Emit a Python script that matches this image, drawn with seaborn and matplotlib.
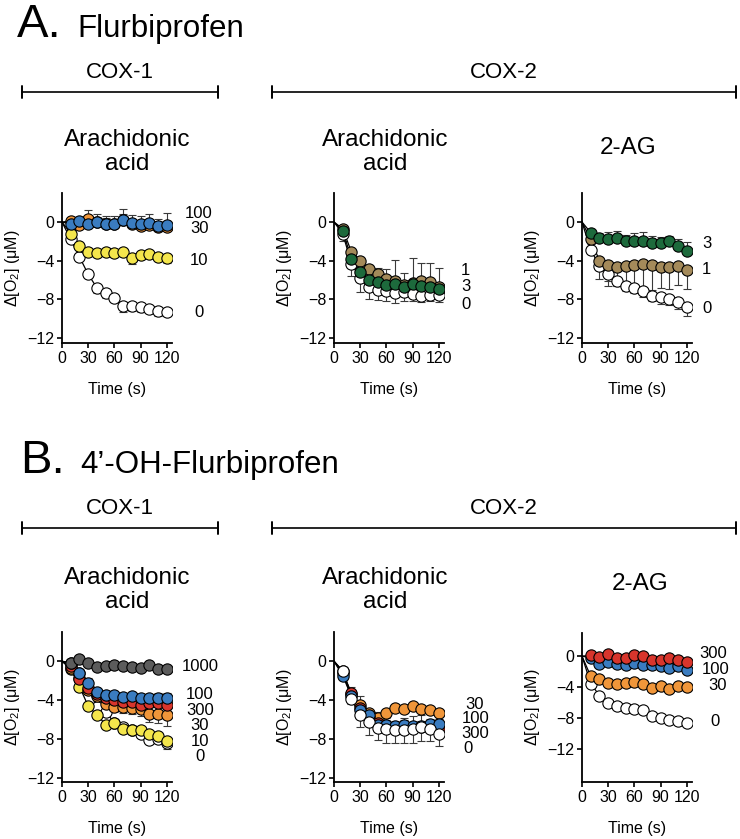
import matplotlib
matplotlib.use("Agg")
import matplotlib.pyplot as plt
import pandas as pd
import seaborn as sns

# ---------------- data ----------------
time = [0, 10, 20, 30, 40, 50, 60, 70, 80, 90, 100, 110, 120]

# A. Flurbiprofen, COX-1, arachidonic acid
a1_0 = [0, -1.8, -3.6, -5.4, -6.8, -7.3, -7.9, -8.7, -8.7, -8.8, -9.0, -9.2, -9.3]
a1_10 = [0, -1.2, -2.5, -3.1, -3.2, -3.1, -3.2, -3.1, -3.7, -3.4, -3.3, -3.6, -3.7]
a1_30 = [0, 0.1, -0.3, 0.3, 0.0, -0.2, -0.2, 0.2, -0.2, -0.4, -0.3, -0.5, -0.5]
a1_100 = [0, -0.2, 0.1, -0.2, 0.0, -0.2, -0.2, 0.2, -0.1, -0.2, -0.1, -0.45, -0.35]
a1_0_err = [0.2, 0.3, 0.3, 0.5, 0.5, 0.4, 0.6, 0.5, 0.5, 0.4, 0.5, 0.4]
a1_10_err = [0.3, 0.3, 0.3, 0.3, 0.3, 0.3, 0.3, 0.6, 0.4, 0.3, 0.3, 0.5]
a1_30_err = [0.3, 0.4, 0.9, 0.5, 0.6, 0.5, 0.6, 0.5, 0.5, 0.5, 0.6, 0.6]
a1_100_err = [0.3, 0.3, 0.4, 0.8, 0.8, 0.8, 1.1, 0.8, 0.8, 0.9, 0.8, 1.3]

# A. Flurbiprofen, COX-2, arachidonic acid
a2_0 = [0, -1.2, -4.3, -5.8, -6.7, -7.0, -7.1, -7.3, -7.2, -7.4, -7.6, -7.5, -7.5]
a2_1 = [0, -0.7, -3.1, -4.0, -4.9, -5.4, -5.9, -6.1, -6.5, -6.3, -6.1, -6.2, -6.7]
a2_3 = [0, -0.9, -3.8, -5.2, -6.0, -6.2, -6.5, -6.4, -6.7, -6.4, -6.6, -6.7, -6.9]
a2_0_err = [0.8, 1.3, 1.4, 1.3, 1.1, 1.1, 1.1, 1.0, 0.8, 0.7, 0.7, 0.8]
a2_1_err = [0.3, 0.3, 0.4, 0.5, 0.6, 1.0, 2.2, 1.2, 2.6, 1.9, 2.0, 2.0]
a2_3_err = [0.2, 0.3, 0.3, 0.3, 0.3, 0.3, 0.3, 0.3, 0.3, 0.3, 0.3, 0.3]

# A. Flurbiprofen, COX-2, 2-AG
a3_0 = [0, -2.9, -4.5, -5.4, -6.1, -6.6, -6.8, -7.1, -7.6, -7.7, -8.0, -8.3, -8.8]
a3_1 = [0, -1.8, -4.0, -4.4, -4.6, -4.5, -4.4, -4.3, -4.4, -4.6, -4.6, -4.5, -5.0]
a3_3 = [0, -1.1, -1.7, -1.8, -1.7, -2.0, -2.0, -2.0, -2.2, -2.2, -2.0, -2.5, -3.0]
a3_0_err = [0.3, 0.5, 0.7, 0.5, 0.5, 0.5, 0.6, 0.6, 0.8, 0.6, 0.7, 0.9]
a3_1_err = [0.5, 1.9, 2.2, 2.0, 2.5, 2.8, 2.8, 2.6, 2.2, 2.3, 2.0, 1.9]
a3_3_err = [0.2, 0.6, 0.8, 0.8, 0.7, 0.9, 1.0, 0.8, 0.7, 0.6, 0.7, 0.9]

# B. 4'-OH-Flurbiprofen, COX-1, arachidonic acid
b1_0 = [0, -0.25, -1.2, -2.8, -4.7, -5.2, -6.3, -6.8, -7.1, -7.5, -8.1, -8.0, -8.4]
b1_10 = [0, -0.8, -2.6, -4.6, -5.5, -6.5, -6.3, -7.0, -7.1, -7.1, -7.5, -7.7, -8.2]
b1_30 = [0, -0.7, -1.7, -3.0, -3.6, -4.4, -4.7, -4.7, -4.8, -4.9, -5.4, -5.4, -5.5]
b1_300 = [0, -0.5, -1.8, -2.8, -3.4, -3.8, -4.0, -4.2, -4.2, -4.5, -4.3, -4.3, -4.5]
b1_100 = [0, -0.2, -1.2, -2.2, -3.2, -3.5, -3.5, -3.65, -3.6, -3.8, -3.8, -3.8, -3.8]
b1_1000 = [0, -0.2, 0.2, -0.2, -0.6, -0.45, -0.35, -0.5, -0.6, -0.7, -0.35, -0.75, -0.85]
b1_0_err = [0.2, 0.3, 0.4, 0.4, 0.4, 0.3, 0.3, 0.3, 0.3, 0.3, 0.4, 0.6]
b1_10_err = [0.2, 0.3, 0.3, 0.3, 0.4, 0.3, 0.3, 0.3, 0.3, 0.3, 0.3, 0.3]
b1_30_err = [0.2, 0.3, 0.4, 0.4, 0.5, 0.5, 0.6, 0.6, 0.7, 0.8, 0.9, 1.1]
b1_300_err = [0.2, 0.3, 0.3, 0.3, 0.3, 0.3, 0.4, 0.4, 0.5, 0.4, 0.4, 0.4]
b1_100_err = [0.2, 0.3, 0.5, 0.4, 0.4, 0.4, 0.4, 0.4, 0.4, 0.4, 0.5, 0.5]
b1_1000_err = [0.2, 0.2, 0.2, 0.2, 0.2, 0.2, 0.2, 0.2, 0.2, 0.2, 0.2, 0.2]

# B. 4'-OH-Flurbiprofen, COX-2, arachidonic acid
b2_0 = [0, -1.0, -3.9, -5.5, -6.2, -6.9, -7.0, -7.1, -7.1, -7.0, -6.8, -7.0, -7.5]
b2_300 = [0, -1.2, -3.3, -4.8, -5.7, -6.3, -6.6, -6.8, -6.7, -6.9, -6.8, -6.9, -7.0]
b2_100 = [0, -1.5, -3.6, -5.0, -5.5, -6.5, -6.5, -6.6, -6.5, -6.7, -6.6, -6.4, -6.4]
b2_30 = [0, -1.0, -3.4, -4.5, -5.3, -5.8, -5.3, -4.8, -4.9, -4.6, -4.9, -5.0, -5.3]
b2_0_err = [0.4, 0.5, 1.3, 1.4, 1.2, 1.4, 1.3, 1.3, 1.4, 1.4, 1.2, 1.2]
b2_300_err = [0.3, 0.7, 1.2, 0.6, 1.1, 0.8, 0.6, 0.9, 1.3, 1.3, 0.8, 0.5]
b2_100_err = [0.3, 0.5, 0.6, 0.5, 0.6, 0.5, 0.5, 0.5, 0.5, 0.5, 0.5, 0.5]
b2_30_err = [0.3, 0.3, 0.3, 0.3, 0.3, 0.3, 0.3, 0.3, 0.3, 0.3, 0.3, 0.3]

# B. 4'-OH-Flurbiprofen, COX-2, 2-AG
b3_0 = [0, -3.55, -5.1, -6.1, -6.4, -6.7, -6.9, -7.0, -7.8, -8.0, -8.3, -8.4, -8.7]
b3_30 = [0, -2.6, -3.0, -3.5, -3.55, -3.5, -3.3, -3.6, -4.1, -3.9, -4.3, -3.9, -4.0]
b3_100 = [0, -0.2, -1.0, -0.8, -1.0, -1.15, -0.95, -1.1, -1.15, -1.25, -1.55, -1.25, -1.8]
b3_300 = [0, 0.1, -0.1, 0.3, -0.2, -0.2, 0.1, 0.0, -0.45, -0.45, -0.2, -0.5, -0.7]
b3_0_err = [0.2, 0.2, 0.2, 0.2, 0.2, 0.2, 0.2, 0.2, 0.2, 0.2, 0.2, 0.2]
b3_30_err = [0.3, 0.3, 0.3, 0.3, 0.3, 0.3, 0.3, 0.4, 0.3, 0.3, 0.3, 0.3]
b3_100_err = [0.2, 0.3, 0.3, 0.3, 0.3, 0.3, 0.3, 0.3, 0.3, 0.3, 0.3, 0.3]
b3_300_err = [0.3, 0.3, 0.3, 0.3, 0.3, 0.3, 0.3, 0.4, 0.4, 0.3, 0.4, 0.4]

x_ticks = [0, 30, 60, 90, 120]
y_ticks = [0, -4, -8, -12]
xlabel = "Time (s)"
ylabel = "Δ[O$_2$] (μM)"

colors = {
    "white": "#ffffff", "yellow": "#f4e64c", "orange": "#f0963a",
    "blue": "#3a7cc0", "grey": "#5c5c5c", "red": "#d8352c",
    "green": "#1d6a3c", "brown": "#a48a5a",
}

# ---------------- style ----------------
sns.set_theme(style="ticks")
plt.rcParams["font.family"] = ["Liberation Sans", "DejaVu Sans"]
plt.rcParams["mathtext.fontset"] = "custom"
plt.rcParams["mathtext.rm"] = "Liberation Sans"
plt.rcParams["mathtext.default"] = "regular"
for key in ("text.color", "axes.labelcolor", "xtick.color", "ytick.color",
            "axes.edgecolor", "xtick.labelcolor", "ytick.labelcolor"):
    plt.rcParams[key] = "black"

W, H = 740, 839
fig = plt.figure(figsize=(W / 100, H / 100), dpi=100)


def fx(x):
    return x / W


def fy(y):
    return 1 - y / H


def make_ax(x0, x1, y0, y1):
    return fig.add_axes([fx(x0), fy(y1), fx(x1) - fx(x0), fy(y0) - fy(y1)])


def draw_panel(ax, series, ylim, labels):
    # series: (values, errors, direction, color)
    for vals, errs, direction, col in series:
        df = pd.DataFrame({"t": time, "v": vals})
        pts = df.iloc[1:]
        lo = [e if direction == "down" else 0 for e in errs]
        hi = [e if direction == "up" else 0 for e in errs]
        ax.errorbar(pts["t"], pts["v"], yerr=[lo, hi], fmt="none",
                    ecolor="#3a3a3a", elinewidth=0.8, capsize=2.6,
                    capthick=0.8, zorder=2)
        sns.lineplot(data=df, x="t", y="v", ax=ax, color="black",
                     linewidth=0.9, errorbar=None, sort=False, zorder=3)
        sns.scatterplot(data=pts, x="t", y="v", ax=ax, color=col,
                        edgecolor="black", linewidth=0.8, s=66, zorder=4,
                        legend=False)
    ax.set_xlim(0, 126)
    ax.set_ylim(*ylim)
    ax.set_xticks(x_ticks)
    ax.set_yticks(y_ticks)
    ax.set_xlabel(xlabel, fontsize=11.5, labelpad=12)
    ax.set_ylabel(ylabel, fontsize=11.5, labelpad=4)
    ax.tick_params(axis="both", labelsize=11.5, length=3.5, width=1.2,
                   pad=2, color="black", labelcolor="black")
    for side in ("left", "bottom"):
        ax.spines[side].set_linewidth(1.3)
        ax.spines[side].set_color("black")
    sns.despine(ax=ax)
    ax.set_facecolor("white")
    for txt, xv, yv in labels:
        ax.text(xv, yv, txt, ha="center", va="center", fontsize=12,
                clip_on=False)


c = colors
# ---------- Row A ----------
axA1 = make_ax(62, 172, 193, 343)
draw_panel(axA1, [
    (a1_0, a1_0_err, "down", c["white"]),
    (a1_10, a1_10_err, "down", c["yellow"]),
    (a1_30, a1_30_err, "up", c["orange"]),
    (a1_100, a1_100_err, "up", c["blue"]),
], (-12.5, 3), [("100", 157, 0.93), ("30", 157, -0.62), ("10", 157, -3.93), ("0", 157, -9.3)])

axA2 = make_ax(334, 444, 193, 343)
draw_panel(axA2, [
    (a2_0, a2_0_err, "down", c["white"]),
    (a2_1, a2_1_err, "up", c["brown"]),
    (a2_3, a2_3_err, "up", c["green"]),
], (-12.5, 3), [("1", 151, -4.96), ("3", 151, -6.7), ("0", 151, -8.5)])

axA3 = make_ax(582, 692, 193, 343)
draw_panel(axA3, [
    (a3_0, a3_0_err, "down", c["white"]),
    (a3_1, a3_1_err, "down", c["brown"]),
    (a3_3, a3_3_err, "up", c["green"]),
], (-12.5, 3), [("3", 143, -2.2), ("1", 143, -4.9), ("0", 143, -8.9)])

# ---------- Row B ----------
axB1 = make_ax(62, 172, 632, 782)
draw_panel(axB1, [
    (b1_0, b1_0_err, "down", c["white"]),
    (b1_10, b1_10_err, "down", c["yellow"]),
    (b1_30, b1_30_err, "down", c["orange"]),
    (b1_300, b1_300_err, "down", c["red"]),
    (b1_100, b1_100_err, "up", c["blue"]),
    (b1_1000, b1_1000_err, "up", c["grey"]),
], (-12.4, 3), [("1000", 158, -0.52), ("100", 158, -3.41), ("300", 158, -5.07),
                ("30", 158, -6.62), ("10", 158, -8.27), ("0", 158, -9.82)])

axB2 = make_ax(334, 444, 632, 782)
draw_panel(axB2, [
    (b2_30, b2_30_err, "up", c["orange"]),
    (b2_300, b2_300_err, "up", c["red"]),
    (b2_100, b2_100_err, "up", c["blue"]),
    (b2_0, b2_0_err, "down", c["white"]),
], (-12.4, 3), [("30", 161, -4.45), ("100", 162, -5.9), ("300", 162, -7.45), ("0", 153, -9.0)])

axB3 = make_ax(582, 692, 633, 782)
draw_panel(axB3, [
    (b3_0, b3_0_err, "down", c["white"]),
    (b3_30, b3_30_err, "down", c["orange"]),
    (b3_100, b3_100_err, "up", c["blue"]),
    (b3_300, b3_300_err, "up", c["red"]),
], (-16.3, 3), [("300", 150, 0.4), ("100", 153, -1.7), ("30", 155, -3.8), ("0", 152, -8.5)])

# ---------- headings ----------
fig.text(fx(17), fy(37), "A.", fontsize=34, ha="left", va="baseline")
fig.text(fx(77), fy(37), "Flurbiprofen", fontsize=22.5, ha="left", va="baseline")
fig.text(fx(20), fy(473), "B.", fontsize=34, ha="left", va="baseline")
fig.text(fx(80), fy(473), "4’-OH-Flurbiprofen", fontsize=22.5, ha="left", va="baseline")


def bracket(x0, x1, y, label, ly):
    fig.add_artist(plt.Line2D([fx(x0), fx(x1)], [fy(y), fy(y)], color="black", lw=1.2))
    for xx in (x0, x1):
        fig.add_artist(plt.Line2D([fx(xx), fx(xx)], [fy(y - 6), fy(y + 6)], color="black", lw=1.4))
    fig.text(fx((x0 + x1) / 2), fy(ly), label, fontsize=16, ha="center", va="center")


bracket(22, 218, 92, "COX-1", 72)
bracket(272, 736, 92, "COX-2", 72)
bracket(22, 218, 528, "COX-1", 508)
bracket(272, 736, 528, "COX-2", 508)

sub_fs = 17.5
for xx, yy in ((127, 152), (385, 152), (127, 590), (385, 590)):
    fig.text(fx(xx), fy(yy), "Arachidonic\nacid", fontsize=sub_fs, ha="center",
             va="center", linespacing=1.15)
fig.text(fx(628), fy(148), "2-AG", fontsize=sub_fs, ha="center", va="center")
fig.text(fx(640), fy(584), "2-AG", fontsize=sub_fs, ha="center", va="center")

fig.savefig("out.png", dpi=100, facecolor="white")
